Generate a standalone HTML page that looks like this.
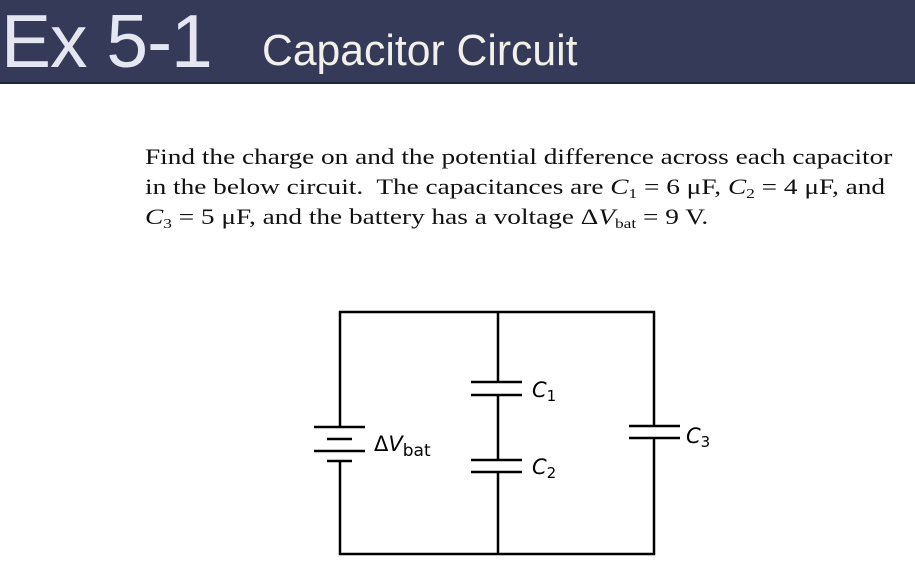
<!DOCTYPE html>
<html><head><style>
body{margin:0;width:915px;height:567px;background:#fff;position:relative;overflow:hidden;font-family:"Liberation Serif",serif}
.hdr{position:absolute;left:0;top:0;width:915px;height:82px;background:#363a59;border-bottom:2px solid #22253a}
.t1{position:absolute;left:1px;top:4px;line-height:1;font-family:"Liberation Sans",sans-serif;font-size:75px;color:#e4e7f2;letter-spacing:-1px}
.t2{position:absolute;left:262px;top:29px;line-height:1;font-family:"Liberation Sans",sans-serif;font-size:44px;color:#f1f1ea;transform:scaleX(0.97);transform-origin:left}
.p{position:absolute;left:145px;top:142px;font-size:22px;line-height:30px;color:#111;white-space:nowrap;transform:scaleX(1.24);transform-origin:left}
i{font-style:italic}
sub{font-size:14px;vertical-align:-4px;line-height:0}
</style></head><body>
<div class="hdr"><div class="t1">Ex 5-1</div><div class="t2">Capacitor Circuit</div></div>
<div class="p">Find the charge on and the potential difference across each capacitor<br>in the below circuit.&nbsp; The capacitances are <i>C</i><sub>1</sub> = 6 μF, <i>C</i><sub>2</sub> = 4 μF, and<br><i>C</i><sub>3</sub> = 5 μF, and the battery has a voltage Δ<i>V</i><sub>bat</sub> = 9 V.</div>
<svg width="915" height="567" style="position:absolute;left:0;top:0" font-family="DejaVu Sans, sans-serif">
<g stroke="#000" stroke-width="2.5" fill="none">
<path d="M340 427 V312 H654 V426 M654 438 V554 H340 V461 M498 312 V382 M498 395 V460 M498 472 V554"/>
<path d="M314 427 H365 M327 439 H352 M314 451 H365 M327 461 H352"/>
<path d="M471 382 H522 M471 395 H522 M471 460 H522 M471 472 H522 M629 426 H680 M629 438 H680"/>
</g>
<g fill="#000" font-size="21">
<text x="374" y="451">Δ<tspan font-style="italic">V</tspan><tspan font-size="17" dy="5">bat</tspan></text>
<text x="532" y="397" font-style="italic">C<tspan font-style="normal" font-size="15" dy="4">1</tspan></text>
<text x="532" y="474" font-style="italic">C<tspan font-style="normal" font-size="15" dy="4">2</tspan></text>
<text x="686" y="443" font-style="italic">C<tspan font-style="normal" font-size="15" dy="4">3</tspan></text>
</g>
</svg>
</body></html>
